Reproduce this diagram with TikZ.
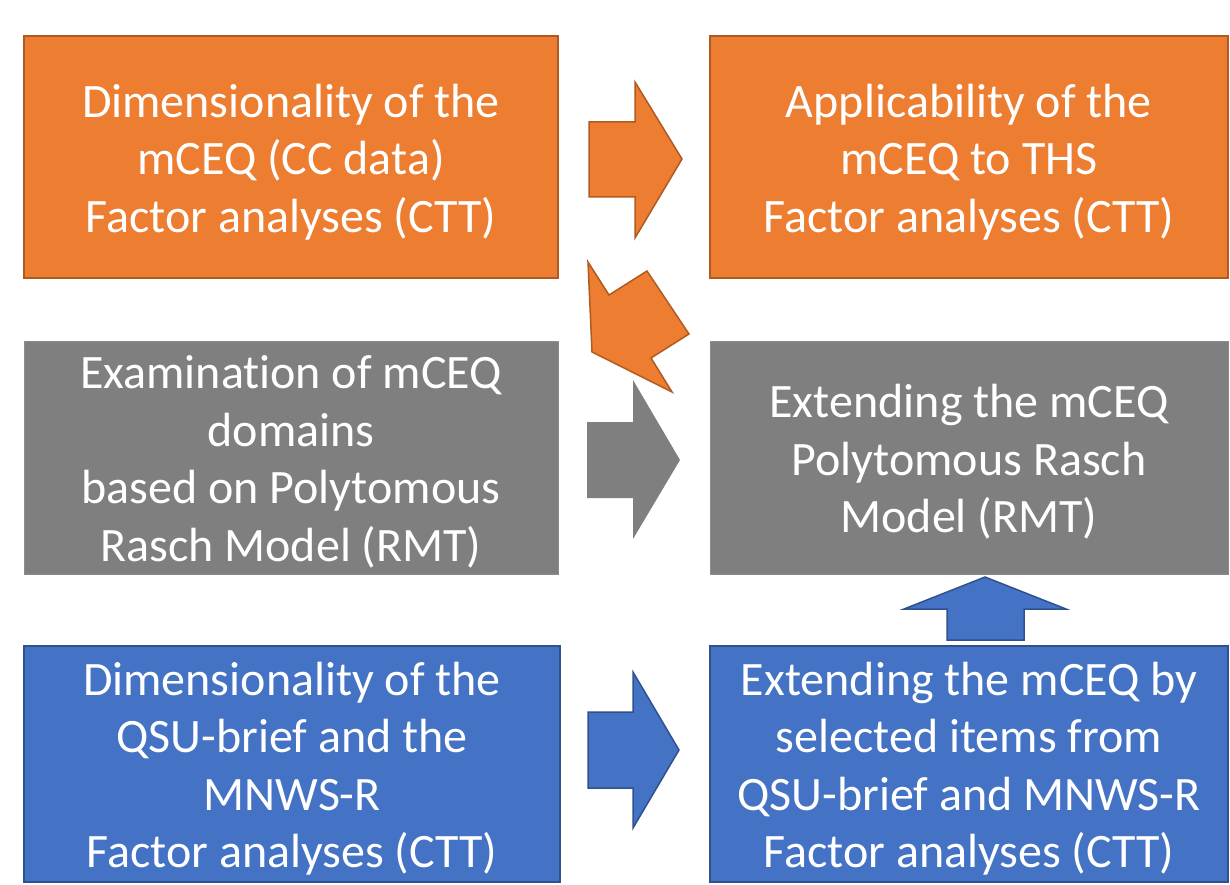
\documentclass[tikz,border=0pt]{standalone}
\usepackage{fontspec}
\setmainfont[Ligatures={NoCommon}]{Carlito}
\definecolor{orfill}{HTML}{ED7D31}
\definecolor{ordraw}{HTML}{AE5A21}
\definecolor{grfill}{HTML}{7F7F7F}
\definecolor{grdraw}{HTML}{8C8C8C}
\definecolor{blfill}{HTML}{4472C4}
\definecolor{bldraw}{HTML}{2F528F}
\tikzset{
  panel/.style={draw, line width=1.5pt, inner sep=0pt},
  orpanel/.style={panel, fill=orfill, draw=ordraw},
  grpanel/.style={panel, fill=grfill, draw=grdraw, line width=0.8pt},
  blpanel/.style={panel, fill=blfill, draw=bldraw},
  paneltext/.style={inner sep=0pt, text=white, align=center,
    font=\fontsize{48}{57.5}\selectfont},
  blockarrow/.style={line width=1.5pt, line join=miter},
}
\begin{document}
\begin{tikzpicture}[x=1pt,y=-1pt]
\useasboundingbox (0,0) rectangle (1230,885);
% panels
\node[orpanel, minimum width=534pt, minimum height=242pt] (tl) at (291,157) {};
\node[paneltext] (tlt) at ([yshift=-5pt]tl.center)
  {Dimensionality of the\\mCEQ (CC data)\\Factor analyses (CTT)};
\node[orpanel, minimum width=518pt, minimum height=242pt] (tr) at (969,157) {};
\node[paneltext] (trt) at ([yshift=-5pt]tr.center)
  {Applicability of the\\mCEQ to THS\\Factor analyses (CTT)};
\node[grpanel, minimum width=534pt, minimum height=233pt] (ml) at (291,457.5) {};
\node[paneltext] (mlt) at ([yshift=-4.5pt]ml.center)
  {Examination of mCEQ\\domains\\based on Polytomous\\Rasch Model (RMT)};
\node[grpanel, minimum width=518pt, minimum height=233pt] (mr) at (969,457.5) {};
\node[paneltext] (mrt) at ([yshift=-4.5pt]mr.center)
  {Extending the mCEQ\\Polytomous Rasch\\Model (RMT)};
\node[blpanel, minimum width=536pt, minimum height=236pt] (bl) at (292,764) {};
\node[paneltext] (blt) at ([yshift=-4.5pt]bl.center)
  {Dimensionality of the\\QSU-brief and the\\MNWS-R\\Factor analyses (CTT)};
\node[blpanel, minimum width=518pt, minimum height=236pt] (br) at (969,764) {};
\node[paneltext] (brt) at ([yshift=-4.5pt]br.center)
  {Extending the mCEQ by\\selected items from\\QSU-brief and MNWS-R\\Factor analyses (CTT)};
% block arrows
\filldraw[blockarrow, fill=orfill, draw=ordraw]
  (589,122) -- (635,122) -- (635,82) -- (682,159) -- (635,238) -- (635,197) -- (589,197) -- cycle;
\filldraw[blockarrow, fill=orfill, draw=ordraw]
  (588,262) -- (609,295) -- (647,271) -- (689,334) -- (651,358) -- (672,392) -- (592,352) -- cycle;
\fill[grfill]
  (587,422) -- (633,422) -- (633,380) -- (680,460) -- (633,539) -- (633,498) -- (587,498) -- cycle;
\filldraw[blockarrow, fill=blfill, draw=bldraw]
  (588,712) -- (633,712) -- (633,672) -- (679,750) -- (633,828) -- (633,788) -- (588,788) -- cycle;
\filldraw[blockarrow, fill=blfill, draw=bldraw]
  (947,640) -- (947,609) -- (904,609) -- (985,577) -- (1066,609) -- (1024,609) -- (1024,640) -- cycle;
\end{tikzpicture}
\end{document}
